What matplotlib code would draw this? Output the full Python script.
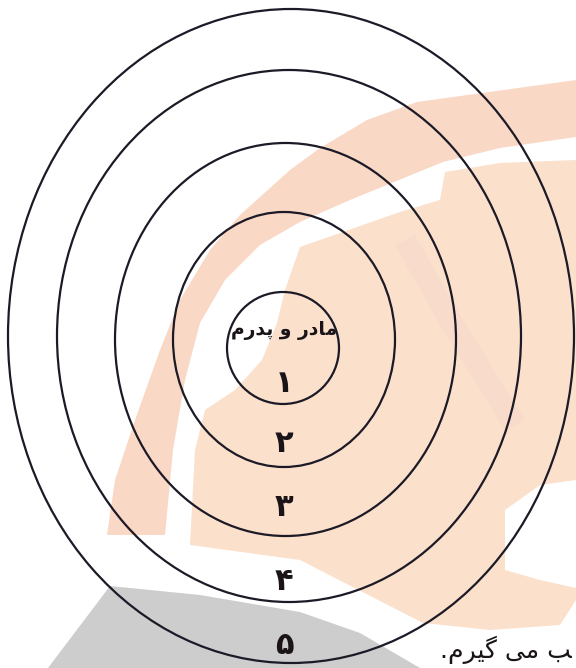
import matplotlib.pyplot as plt
from matplotlib.patches import Ellipse, Polygon

# ring geometry (pixels, y down)
ring_cx = [283, 284, 285.5, 289, 291]
ring_cy = [348, 339.5, 339.5, 336, 336]
ring_w = [112, 222, 341, 464, 566]
ring_h = [112, 255, 393, 532, 654]

# labels inside the rings (Arabic presentation forms, visual order)
label_text = ["\ufee1\ufead\ufeaa\ufb58 \ufeed \ufead\ufea9\ufe8e\ufee3",
              "\u06f1", "\u06f2", "\u06f3", "\u06f4", "\u06f5"]
label_x = [284, 284, 284, 284, 284, 284]
label_y = [330, 384, 444, 508, 582, 645]
label_size = [13.5, 22, 22, 22, 22, 22]

# watermark shapes: outer pink band of the logo
band_x = [576, 417, 367, 320, 290, 240, 210, 180, 160, 135, 115, 107, 165,
          173, 185, 200, 225, 260, 300, 350, 443, 500, 576]
band_y = [80, 102, 120, 148, 170, 215, 250, 300, 350, 420, 480, 535, 535,
          450, 380, 323, 280, 245, 222, 200, 162, 148, 137]
# inner peach body of the logo
body_x = [576, 500, 445, 440, 400, 300, 285, 277, 262, 235, 205, 195, 190,
          300, 423, 490, 560, 576]
body_y = [160, 163, 172, 200, 212, 247, 290, 323, 360, 390, 410, 450, 545,
          560, 623, 630, 625, 600]
hole_x = [576, 540, 505, 505, 540, 576]
hole_y = [480, 485, 510, 570, 580, 588]
stripe_x = [405, 450, 515]
stripe_y = [240, 320, 425]
gray_x = [110, 200, 300, 360, 420, 48]
gray_y = [586, 595, 612, 633, 668, 668]

fig = plt.figure(figsize=(5.76, 6.68), dpi=100)
ax = fig.add_axes([0, 0, 1, 1])
ax.set_xlim(0, 576)
ax.set_ylim(668, 0)
ax.axis('off')

ax.add_patch(Polygon(list(zip(body_x, body_y)), closed=True, fc='#fbe0cb', ec='none', zorder=1))
ax.plot(stripe_x, stripe_y, color='#f9dbcb', lw=16, solid_capstyle='butt', zorder=1.2)
ax.add_patch(Polygon(list(zip(band_x, band_y)), closed=True, fc='#f9d8c6', ec='none', zorder=1.5))
ax.add_patch(Polygon(list(zip(hole_x, hole_y)), closed=True, fc='white', ec='none', zorder=2))
ax.add_patch(Polygon(list(zip(gray_x, gray_y)), closed=True, fc='#cdcdcd', ec='none', zorder=1))

for x, y, w, h in zip(ring_cx, ring_cy, ring_w, ring_h):
    ax.add_patch(Ellipse((x, y), w, h, fc='none', ec='#1c1a26', lw=1.6, zorder=3))

for t, x, y, s in zip(label_text, label_x, label_y, label_size):
    ax.text(x, y, t, fontsize=s, ha='center', va='center', color='#1a1418',
            family='DejaVu Sans', fontweight='bold', zorder=4)

# sentence fragment at the bottom right
ax.text(440, 658, ".\ufee1\ufeae\ufbff\ufb94 \ufbfd\ufee3 \ufe90", fontsize=18, ha='left', va='baseline',
        color='#1a1418', family='DejaVu Sans', zorder=4)

fig.savefig('out.png', dpi=100)
